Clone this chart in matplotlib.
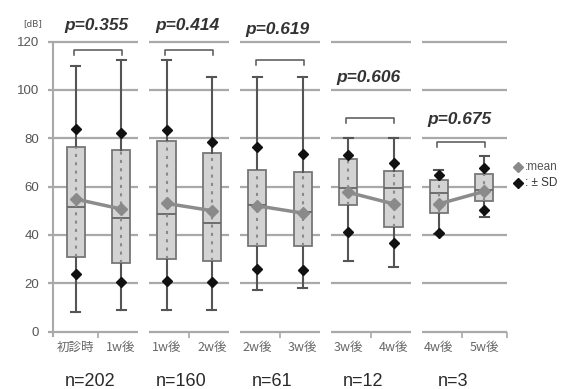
import numpy as np
import matplotlib
matplotlib.use("Agg")
import matplotlib.pyplot as plt

# box labels and per-group counts
labels = ["初診時", "1w後", "1w後", "2w後", "2w後", "3w後", "3w後", "4w後", "4w後", "5w後"]
n_text = ["n=202", "n=160", "n=61", "n=12", "n=3"]
p_text = ["p=0.355", "p=0.414", "p=0.619", "p=0.606", "p=0.675"]

# values (dB)
whis_hi = [110, 112.5, 112.5, 105.5, 105.5, 105.5, 80, 80, 67, 72.5]
q3      = [76.5, 75, 79, 74, 67, 66, 71.5, 66.5, 62.5, 65]
median  = [51.5, 47, 48.5, 45, 52.3, 49.5, 59.5, 59.3, 57.2, 58.5]
q1      = [31, 28.5, 30, 29, 35.5, 35.5, 52.3, 43.3, 49.2, 54]
whis_lo = [8, 9, 9, 9, 17, 18, 29, 26.7, 40.5, 47.5]
means   = [54.8, 50.7, 53, 50, 52, 49, 57.6, 52.8, 52.8, 58]
sd_hi   = [84, 82, 83.5, 78.5, 76.5, 73.3, 73, 69.7, 64.8, 67.5]
sd_lo   = [23.7, 20.3, 21, 20.4, 26, 25.4, 41, 36.6, 40.6, 50.3]

bracket_y = [116.5, 116.5, 112.3, 88.3, 78.4]
p_y = [126.8, 126.8, 124.8, 104.9, 87.9]

grid_c = "#a9a9a9"
txt_c = "#555555"

fig = plt.figure(figsize=(5.67, 3.89), dpi=100)
ax = fig.add_axes([0.0735, 0.1478, 0.8287, 0.7455])
ax.set_xlim(-0.75, 9.6)
ax.set_ylim(0, 120)

for s in ["top", "right", "bottom"]:
    ax.spines[s].set_visible(False)
ax.spines["left"].set_position(("data", -0.5))
ax.spines["left"].set_color(grid_c)
ax.spines["left"].set_linewidth(1.5)
ax.spines["left"].set_bounds(-2, 120)

yt = np.arange(0, 121, 20)
ax.set_yticks(yt)
ax.tick_params(axis="y", length=0, pad=10, labelsize=9.5, labelcolor=txt_c)
for t in ax.get_yticklabels():
    t.set_fontfamily("Liberation Sans")

pos = np.arange(10)
ax.set_xticks(pos)
ax.set_xticklabels(labels, family=["Noto Sans CJK JP", "DejaVu Sans"], fontsize=9, color="#666666")
ax.set_xticks(np.arange(0.5, 10, 2).tolist() + [9.5], minor=True)
ax.tick_params(axis="x", which="major", length=0, pad=7)
ax.tick_params(axis="x", which="minor", length=4, color=grid_c, width=1.2)

# per-panel gridlines
g = 0.12
for i in range(5):
    left = -0.6 if i == 0 else 2 * i - 0.5 + g
    right = 9.5 if i == 4 else 2 * i + 1.5 - g
    ax.hlines(yt, left, right, color=grid_c, lw=1.6, zorder=1, clip_on=False)

stats = []
for k in range(10):
    stats.append(dict(med=median[k], q1=q1[k], q3=q3[k], whislo=whis_lo[k], whishi=whis_hi[k], fliers=[]))

ax.bxp(stats, positions=pos, widths=0.4, capwidths=0.2, patch_artist=True, showfliers=False,
       boxprops=dict(facecolor="#d3d3d3", edgecolor="#777777", lw=1.3),
       whiskerprops=dict(color="#555555", lw=1.5),
       capprops=dict(color="#555555", lw=1.5),
       medianprops=dict(color="#666666", lw=1.3), manage_ticks=False, zorder=3)

ax.vlines(pos, q1, q3, colors="#8a8a8a", linestyles=(0, (1.5, 2.5)), lw=1.5, zorder=4)

for i in range(5):
    a, b = 2 * i, 2 * i + 1
    ax.plot([a, b], [means[a], means[b]], color="#8c8c8c", lw=2.5, zorder=5)
    y = bracket_y[i]
    ax.plot([a - 0.04, a - 0.04, b + 0.02, b + 0.02], [y - 2, y, y, y - 2],
            color="#555555", lw=1.1, clip_on=False, zorder=5)
    ax.text(2 * i + 0.45, p_y[i], p_text[i], ha="center", va="center", fontsize=12.5,
            fontweight="bold", fontstyle="italic", family="Liberation Sans", color="#333333")
    ax.text(2 * i + 0.32, -20.5, n_text[i], ha="center", va="center", fontsize=13,
            family="Liberation Sans", color="#2a2a2a", clip_on=False)

ax.plot(pos, means, "D", color="#8a8a8a", ms=6.5, ls="none", zorder=6)
ax.plot(pos, sd_hi, "D", color="#111111", ms=5, ls="none", zorder=6)
ax.plot(pos, sd_lo, "D", color="#111111", ms=5, ls="none", zorder=6)

# legend drawn by hand at the right edge
ax.plot([9.75], [68.1], "D", color="#8a8a8a", ms=5.5, clip_on=False)
ax.plot([9.75], [61.4], "D", color="#111111", ms=5.5, clip_on=False)
ax.text(9.9, 68.1, ":mean", va="center", fontsize=8.5, family="Liberation Sans", color="#555555")
ax.text(9.9, 61.4, ": \u00b1 SD", va="center", fontsize=8.5, family="Liberation Sans", color="#333333")

ax.text(-0.95, 127.2, "[dB]", ha="center", va="center", fontsize=6.5, color=txt_c, clip_on=False)

fig.savefig("out.png", dpi=100)
